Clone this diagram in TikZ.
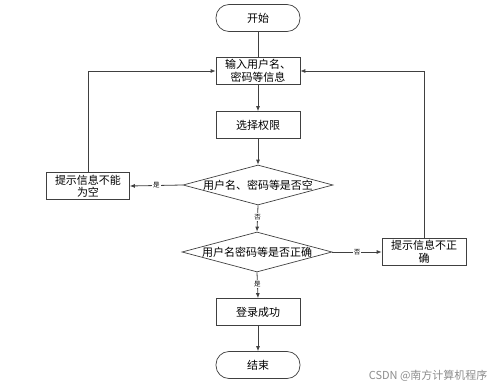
\documentclass[tikz,border=0pt]{standalone}
\usepackage{fontspec}
\setmainfont{Noto Sans CJK SC}
\newfontfamily\wmfont{Noto Sans CJK SC}
\usetikzlibrary{shapes.geometric,arrows.meta}
\begin{document}
\begin{tikzpicture}[x=1pt,y=-1pt,
  every node/.style={font=\fontsize{11}{12.5}\selectfont},
  proc/.style={draw=black!75,line width=0.7pt,minimum width=84pt,minimum height=27pt,inner sep=1pt,align=center,text width=80pt},
  term/.style={draw=black!75,line width=0.7pt,rounded corners=13pt,minimum width=84pt,minimum height=27pt,inner sep=1pt},
  dec/.style={draw=black!75,line width=0.7pt,diamond,aspect=3.7,minimum width=150pt,minimum height=40pt,inner sep=0pt},
  ln/.style={draw=black!75,line width=0.8pt},
  arr/.style={ln,-{Latex[length=5pt,width=4pt]}},
  lbl/.style={fill=white,inner sep=1pt,font=\fontsize{6.5}{7}\selectfont}]
\useasboundingbox (0,0) rectangle (499,388);
\node[term] (start) at (258,18) {开始};
\node[proc] (input) at (258,71) {输入用户名、\\密码等信息};
\node[proc] (sel) at (258,125) {选择权限};
\node[dec] (d1) at (258,185) {};
\node at (258,185) {用户名、密码等是否空};
\node[proc,minimum width=83pt] (empty) at (88,186) {提示信息不能\\为空};
\node[dec] (d2) at (257,252) {};
\node at (257,252) {用户名密码等是否正确};
\node[proc] (wrong) at (424,252) {提示信息不正\\确};
\node[proc] (ok) at (258,312) {登录成功};
\node[term] (end) at (258,365) {结束};
\node[text=black!45,font=\wmfont\fontsize{11}{12}\selectfont,anchor=east] (wm) at (491,376) {CSDN @南方计算机程序};
\draw[ln] (start) -- (input);
\draw[arr] (input) -- (sel);
\draw[arr] (sel) -- (d1);
\draw[arr] (d1.west) -- node[lbl]{是} (empty.east);
\draw[arr] (d1.south) -- node[lbl,pos=0.45]{否} (d2.north);
\draw[arr] (d2.east) -- node[lbl]{否} (wrong.west);
\draw[arr] (d2.south) -- node[lbl,pos=0.45]{是} (ok.north);
\draw[arr] (ok) -- (end);
\draw[arr] (empty.north) |- (input.west);
\draw[arr] (wrong.north) |- (input.east);
\end{tikzpicture}
\end{document}
